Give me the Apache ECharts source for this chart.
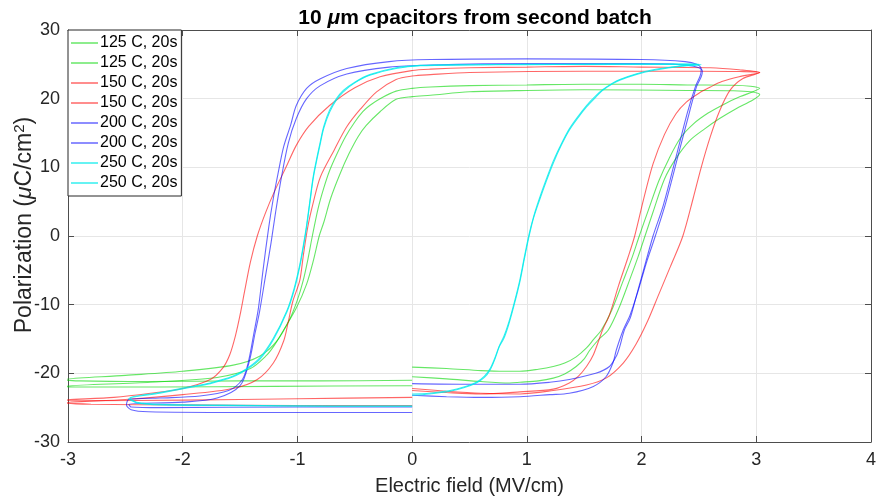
<!DOCTYPE html>
<html>
<head>
<meta charset="utf-8">
<script src="https://cdn.jsdelivr.net/npm/echarts@6/dist/echarts.min.js"></script>
<style>
  html, body { margin: 0; padding: 0; background: #fff; }
  #chart { width: 877px; height: 500px; }
</style>
</head>
<body>
<div id="chart"></div>
<script>
// legend labels (two runs for each anneal temperature)
const labels = ['125 C, 20s', '125 C, 20s', '150 C, 20s', '150 C, 20s',
                '200 C, 20s', '200 C, 20s', '250 C, 20s', '250 C, 20s'];
const xTicks = [-3, -2, -1, 0, 1, 2, 3, 4];
const yTicks = [-30, -20, -10, 0, 10, 20, 30];

// each loop: start at E=0, up to +Emax, down to -Emax, back to 0  [E (MV/cm), P (uC/cm2)]
const g125a = [[0,-19.1],[0.3,-19.3],[0.6,-19.6],[0.8,-19.7],[0.94,-19.7],[1.1,-19.4],[1.23,-19.0],[1.33,-18.5],[1.43,-17.6],[1.52,-16.3],[1.58,-15.1],[1.65,-13.7],[1.74,-10.8],[1.84,-6.5],[1.92,-3.0],[1.98,0],[2.06,3.8],[2.15,8.0],[2.24,11.3],[2.34,14.3],[2.45,16.3],[2.58,17.9],[2.72,19.2],[2.86,20.3],[2.97,21.0],[3.03,21.5],
  [2.95,21.8],[2.8,21.95],[2.4,22.0],[2.0,22.1],[1.5,22.1],[1.0,22.0],[0.5,21.9],[0.16,21.7],[0,21.5],[-0.14,21.1],[-0.28,20.0],[-0.37,19.0],[-0.43,18.1],[-0.5,16.6],[-0.58,14.5],[-0.66,11.8],[-0.72,9.5],[-0.77,7.0],[-0.82,4.0],[-0.87,0],[-0.91,-3.5],[-0.95,-6.5],[-1.0,-9.3],[-1.07,-12.2],[-1.18,-15.3],[-1.33,-17.5],[-1.56,-18.8],[-2.0,-19.7],[-2.5,-20.3],[-3.03,-20.9],
  [-2.9,-21.1],[-2.3,-21.2],[-1.5,-21.1],[-0.8,-21.1],[0,-21.0]];
const g125b = [[0,-20.5],[0.3,-20.8],[0.6,-21.2],[0.85,-21.4],[0.94,-21.3],[1.1,-21.1],[1.23,-20.7],[1.33,-20.1],[1.43,-19.0],[1.5,-17.9],[1.55,-16.6],[1.63,-15.0],[1.71,-13.7],[1.8,-10.6],[1.9,-6.2],[1.97,-3.0],[2.03,0],[2.1,3.5],[2.2,8.3],[2.3,11.3],[2.42,13.9],[2.55,15.6],[2.68,17.1],[2.82,18.5],[2.97,19.8],[3.03,20.6],
  [2.95,21.0],[2.8,21.15],[2.4,21.2],[1.5,21.3],[1.0,21.2],[0.5,21.0],[0.16,20.5],[0,20.3],[-0.14,19.9],[-0.28,18.1],[-0.4,16.1],[-0.47,14.5],[-0.55,12.0],[-0.63,9.0],[-0.71,5.5],[-0.77,2.0],[-0.81,0],[-0.86,-3.5],[-0.92,-7.0],[-1.01,-10.5],[-1.12,-13.7],[-1.2,-15.9],[-1.27,-17.4],[-1.41,-19.3],[-1.7,-20.6],[-2.28,-21.3],[-3.03,-21.9],
  [-2.9,-22.0],[-2.2,-22.0],[-1.2,-21.9],[0,-21.8]];
const r150a = [[0,-22.5],[0.3,-22.8],[0.6,-23.0],[0.94,-22.7],[1.23,-22.3],[1.37,-21.4],[1.45,-20.4],[1.52,-19.0],[1.58,-17.3],[1.66,-13.7],[1.72,-11.5],[1.8,-7.2],[1.88,-3.2],[1.94,0],[2.02,5.5],[2.1,10.5],[2.2,14.8],[2.3,17.8],[2.39,19.5],[2.5,20.8],[2.6,21.7],[2.7,22.5],[2.85,23.2],[3.03,23.8],
  [2.85,24.2],[2.6,24.5],[2.0,24.6],[1.5,24.7],[1.0,24.6],[0.5,24.5],[0.16,24.3],[0,24.1],[-0.28,23.2],[-0.5,21.6],[-0.72,19.0],[-0.9,16.0],[-1.01,13.2],[-1.1,10.0],[-1.2,6.5],[-1.28,3.3],[-1.35,0],[-1.41,-3.8],[-1.46,-8.0],[-1.5,-11.5],[-1.54,-14.5],[-1.59,-17.3],[-1.65,-19.2],[-1.76,-20.9],[-2.0,-22.2],[-2.28,-22.9],[-2.6,-23.5],[-3.03,-23.9],
  [-2.8,-24.0],[-2.0,-23.9],[-1.0,-23.7],[0,-23.5]];
const r150b = [[0,-22.2],[0.3,-22.6],[0.6,-22.9],[0.94,-23.0],[1.23,-22.5],[1.52,-21.7],[1.69,-20.7],[1.84,-18.5],[1.95,-15.8],[2.05,-12.5],[2.15,-8.5],[2.25,-4.5],[2.36,0],[2.45,5.5],[2.52,10.0],[2.6,14.5],[2.68,18.2],[2.77,21.2],[2.88,22.9],[3.03,23.8],
  [2.85,23.95],[2.5,24.0],[1.5,24.0],[0.5,23.8],[0.16,23.5],[0,23.3],[-0.14,22.8],[-0.31,21.0],[-0.45,18.5],[-0.57,15.9],[-0.68,12.5],[-0.8,8.6],[-0.86,5.0],[-0.91,1.3],[-0.95,-3.0],[-0.98,-6.5],[-1.04,-9.5],[-1.08,-12.5],[-1.12,-15.3],[-1.21,-18.5],[-1.35,-20.9],[-1.56,-22.2],[-2.0,-23.1],[-2.5,-23.8],[-3.03,-24.3],
  [-2.8,-24.5],[-2.0,-24.6],[-1.0,-24.7],[0,-24.7]];
const b200a = [[0,-21.5],[0.5,-21.6],[0.94,-21.6],[1.2,-21.3],[1.37,-20.9],[1.6,-20.0],[1.72,-19.0],[1.78,-17.5],[1.81,-16.1],[1.85,-13.7],[1.9,-12.0],[1.95,-9.0],[2.01,-5.4],[2.1,0],[2.19,4.5],[2.3,11.5],[2.4,18.0],[2.47,21.8],[2.51,23.3],
  [2.52,24.3],[2.48,25.0],[2.38,25.4],[2.0,25.7],[1.0,25.8],[0.16,25.7],[-0.2,25.4],[-0.57,24.4],[-0.8,22.9],[-0.92,21.5],[-1.01,19.0],[-1.06,16.1],[-1.12,13.0],[-1.17,9.0],[-1.21,5.5],[-1.25,1.3],[-1.30,-5.0],[-1.34,-10.5],[-1.38,-14.2],[-1.43,-18.5],[-1.48,-20.9],[-1.6,-22.5],[-1.85,-23.3],[-2.2,-23.6],[-2.47,-23.8],
  [-2.49,-24.6],[-2.45,-25.3],[-2.3,-25.6],[-1.5,-25.7],[-0.5,-25.7],[0,-25.7]];
const b200b = [[0,-23.2],[0.3,-23.4],[0.6,-23.5],[0.94,-23.4],[1.2,-23.1],[1.37,-22.9],[1.58,-21.9],[1.69,-20.5],[1.75,-18.5],[1.78,-16.6],[1.84,-13.7],[1.9,-11.5],[1.97,-8.0],[2.04,-4.0],[2.12,0],[2.21,4.8],[2.32,11.8],[2.42,18.2],[2.48,21.8],[2.52,23.2],
  [2.53,24.0],[2.48,24.6],[2.35,24.95],[2.0,25.1],[1.0,25.1],[0.16,24.9],[-0.2,24.6],[-0.57,23.6],[-0.8,21.9],[-0.92,20.0],[-1.01,17.1],[-1.08,13.5],[-1.14,8.5],[-1.19,3.5],[-1.23,-1.0],[-1.28,-6.0],[-1.33,-11.0],[-1.37,-14.2],[-1.42,-18.3],[-1.5,-21.8],[-1.7,-23.6],[-2.0,-24.2],[-2.47,-24.5],
  [-2.45,-24.9],[-2.2,-25.0],[-1.0,-24.9],[0,-24.9]];
const c250a = [[0,-23.2],[0.15,-23.0],[0.33,-22.6],[0.45,-22.1],[0.56,-21.4],[0.63,-20.6],[0.68,-19.5],[0.72,-18.0],[0.76,-16.1],[0.8,-14.9],[0.84,-13.0],[0.89,-10.0],[0.94,-6.6],[0.98,-3.2],[1.02,0],[1.06,2.7],[1.11,5.2],[1.17,8.0],[1.23,10.6],[1.3,13.2],[1.37,15.4],[1.45,17.3],[1.52,18.8],[1.6,20.2],[1.66,21.2],[1.75,22.2],[1.81,22.7],[1.95,23.5],[2.1,24.1],[2.33,24.7],[2.52,24.95],
  [2.4,25.0],[2.0,25.0],[1.5,25.0],[1.0,24.95],[0.5,24.9],[0.07,24.8],[-0.14,24.4],[-0.37,23.4],[-0.5,22.3],[-0.6,21.0],[-0.66,19.8],[-0.72,18.0],[-0.77,15.7],[-0.80,13.5],[-0.86,8.6],[-0.89,5.0],[-0.92,1.3],[-0.95,-1.8],[-0.98,-4.5],[-1.03,-8.0],[-1.09,-11.0],[-1.21,-15.1],[-1.33,-18.0],[-1.44,-19.4],[-1.56,-20.5],[-1.76,-21.5],[-1.95,-22.1],[-2.2,-22.9],[-2.47,-23.7],
  [-2.4,-24.3],[-2.2,-24.6],[-1.5,-24.7],[-0.7,-24.8],[0,-24.8]];
const c250b = [[0,-23.0],[0.15,-22.9],[0.33,-22.5],[0.45,-22.0],[0.56,-21.3],[0.63,-20.4],[0.68,-19.3],[0.72,-17.8],[0.76,-16.0],[0.8,-14.6],[0.84,-12.7],[0.89,-9.7],[0.94,-6.3],[0.98,-2.9],[1.02,0.3],[1.06,2.9],[1.11,5.5],[1.17,8.3],[1.23,10.9],[1.3,13.4],[1.37,15.6],[1.45,17.5],[1.52,19.0],[1.6,20.4],[1.66,21.3],[1.75,22.3],[1.81,22.8],[1.95,23.6],[2.1,24.2],[2.33,24.75],[2.5,25.0],
  [2.4,25.05],[2.0,25.05],[1.5,25.0],[1.0,25.0],[0.5,24.95],[0.07,24.85],[-0.14,24.5],[-0.37,23.5],[-0.5,22.4],[-0.6,21.2],[-0.66,20.0],[-0.72,18.3],[-0.77,16.0],[-0.80,13.8],[-0.86,8.9],[-0.89,5.3],[-0.92,1.6],[-0.95,-1.5],[-0.98,-4.2],[-1.03,-7.7],[-1.09,-10.8],[-1.21,-14.9],[-1.33,-17.8],[-1.44,-19.3],[-1.56,-20.4],[-1.76,-21.4],[-1.95,-22.0],[-2.2,-22.8],[-2.46,-23.6],
  [-2.4,-24.2],[-2.2,-24.5],[-1.5,-24.65],[-0.7,-24.75],[0,-24.75]];

const loops = [g125a, g125b, r150a, r150b, b200a, b200b, c250a, c250b];
const colors = ['rgba(0,215,0,0.6)', 'rgba(0,215,0,0.6)',
                'rgba(255,0,0,0.6)', 'rgba(255,0,0,0.6)',
                'rgba(0,0,255,0.6)', 'rgba(0,0,255,0.6)',
                'rgba(0,235,235,0.8)', 'rgba(0,235,235,0.8)'];

const font = 'Liberation Sans';
const axisColor = '#4d4d4d';

const chart = echarts.init(document.getElementById('chart'));

const series = loops.map((d, i) => ({
    name: labels[i] + '#' + i,
    type: 'line',
    data: d,
    symbol: 'none',
    smooth: 0.3,
    lineStyle: { color: colors[i], width: 1.1 },
    itemStyle: { color: colors[i] },
    animation: false
}));

chart.setOption({
    animation: false,
    title: {
        text: '{b|10 }{i|μ}{b|m cpacitors from second batch}',
        left: 470,
        top: 3,
        textAlign: 'center',
        textStyle: {
            rich: {
                b: { fontFamily: font, fontWeight: 'bold', fontSize: 21, color: '#000' },
                i: { fontFamily: font, fontStyle: 'italic', fontSize: 21, color: '#000' }
            }
        }
    },
    legend: {
        orient: 'vertical',
        left: 68,
        top: 30,
        icon: 'rect',
        itemWidth: 27,
        itemHeight: 1.5,
        itemGap: 4,
        padding: [5, 4, 5, 3],
        backgroundColor: '#fff',
        borderColor: '#262626',
        borderWidth: 1,
        borderRadius: 0,
        textStyle: { fontFamily: font, fontSize: 16, lineHeight: 14, color: '#000', padding: [0, 0, 0, -3] },
        formatter: name => name.split('#')[0],
        data: series.map(s => s.name)
    },
    grid: { left: 68, right: 6, top: 30, bottom: 58, outerBoundsMode: 'none' },
    xAxis: [{
        type: 'value',
        min: xTicks[0],
        max: xTicks[xTicks.length - 1],
        interval: 1,
        name: 'Electric field (MV/cm)',
        nameLocation: 'middle',
        nameGap: 34,
        nameTextStyle: { fontFamily: font, fontSize: 20, color: '#262626' },
        axisLine: { onZero: false, lineStyle: { color: axisColor } },
        axisTick: { inside: true, length: 6, lineStyle: { color: axisColor } },
        axisLabel: { fontFamily: font, fontSize: 18, color: '#262626', margin: 9 },
        splitLine: { show: true, lineStyle: { color: '#e6e6e6' } }
    }, {
        type: 'value',
        position: 'top',
        min: xTicks[0],
        max: xTicks[xTicks.length - 1],
        interval: 1,
        axisLine: { onZero: false, lineStyle: { color: axisColor } },
        axisTick: { inside: true, length: 6, lineStyle: { color: axisColor } },
        axisLabel: { show: false },
        splitLine: { show: false }
    }],
    yAxis: [{
        type: 'value',
        min: yTicks[0],
        max: yTicks[yTicks.length - 1],
        interval: 10,
        name: '{a|Polarization (}{i|μ}{a|C/cm}{s|2}{a|)}',
        nameLocation: 'middle',
        nameGap: 30,
        nameMoveOverlap: false,
        nameRotate: 90,
        nameTextStyle: {
            padding: [0, 0, 0, 22],
            rich: {
                a: { fontFamily: font, fontSize: 23, color: '#262626' },
                i: { fontFamily: font, fontSize: 23, fontStyle: 'italic', color: '#262626' },
                s: { fontFamily: font, fontSize: 15, color: '#262626', verticalAlign: 'top', padding: [0, 0, 11, 0] }
            }
        },
        axisLine: { show: true, onZero: false, lineStyle: { color: axisColor } },
        axisTick: { show: true, inside: true, length: 6, lineStyle: { color: axisColor } },
        axisLabel: { fontFamily: font, fontSize: 18, color: '#262626', margin: 8 },
        splitLine: { show: true, lineStyle: { color: '#e6e6e6' } }
    }, {
        type: 'value',
        position: 'right',
        min: yTicks[0],
        max: yTicks[yTicks.length - 1],
        interval: 10,
        axisLine: { show: true, onZero: false, lineStyle: { color: axisColor } },
        axisTick: { show: true, inside: true, length: 6, lineStyle: { color: axisColor } },
        axisLabel: { show: false },
        splitLine: { show: false }
    }],
    series: series
});
</script>
</body>
</html>
